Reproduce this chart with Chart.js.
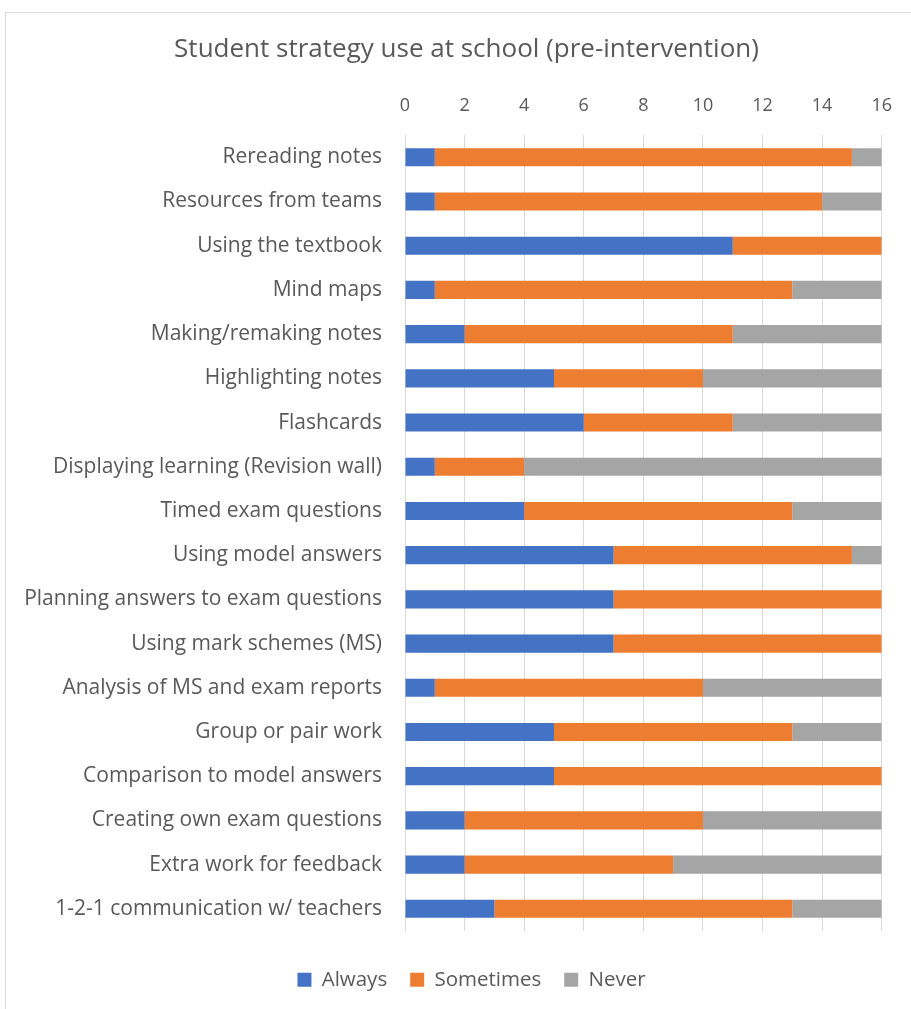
<!DOCTYPE html>
<html>
<head>
<meta charset="utf-8">
<script src="https://cdn.jsdelivr.net/npm/chart.js@4"></script>
<style>
  html, body { margin: 0; padding: 0; background: #fff; }
  #wrap { position: relative; width: 911px; height: 1009px; }
  #frame { position: absolute; left: 5px; top: 12px; width: 920px; height: 1010px; border: 1px solid #d9d9d9; box-sizing: border-box; }
  canvas { position: absolute; left: 0; top: 0; }
</style>
</head>
<body>
<div id="wrap">
  <div id="frame"></div>
  <canvas id="chart" width="911" height="1009"></canvas>
</div>
<script>
const strategies = [
  "Rereading notes",
  "Resources from teams",
  "Using the textbook",
  "Mind maps",
  "Making/remaking notes",
  "Highlighting notes",
  "Flashcards",
  "Displaying learning (Revision wall)",
  "Timed exam questions",
  "Using model answers",
  "Planning answers to exam questions",
  "Using mark schemes (MS)",
  "Analysis of MS and exam reports",
  "Group or pair work",
  "Comparison to model answers",
  "Creating own exam questions",
  "Extra work for feedback",
  "1-2-1 communication w/ teachers"
];
const always    = [1, 1, 11, 1, 2, 5, 6, 1, 4, 7, 7, 7, 1, 5, 5, 2, 2, 3];
const sometimes = [14, 13, 5, 12, 9, 5, 5, 3, 9, 8, 9, 9, 9, 8, 11, 8, 7, 10];
const never     = [1, 2, 0, 3, 5, 6, 5, 12, 3, 1, 0, 0, 6, 3, 0, 6, 7, 3];

const textColor = "#595959";
const font = "'Open Sans', sans-serif";

// nudge title and legend to the right so they centre on the bars, not the whole box
const shiftBlocks = {
  id: "shiftBlocks",
  afterLayout(chart) {
    if (chart.titleBlock) {
      chart.titleBlock.left += 20;
      chart.titleBlock.right += 20;
    }
    if (chart.legend) {
      chart.legend.left += 25;
      chart.legend.right += 25;
    }
  }
};

new Chart(document.getElementById("chart").getContext("2d"), {
  type: "bar",
  data: {
    labels: strategies,
    datasets: [
      { label: "Always", data: always, backgroundColor: "#4472C4" },
      { label: "Sometimes", data: sometimes, backgroundColor: "#ED7D31" },
      { label: "Never", data: never, backgroundColor: "#A5A5A5" }
    ]
  },
  options: {
    indexAxis: "y",
    responsive: false,
    animation: false,
    barPercentage: 0.41,
    categoryPercentage: 1,
    layout: { padding: { top: 12, right: 28, bottom: 9, left: 10 } },
    scales: {
      x: {
        position: "top",
        stacked: true,
        min: 0,
        max: 16,
        ticks: { stepSize: 2, color: textColor, font: { family: font, size: 18 }, padding: 19 },
        grid: { color: "#d9d9d9", drawTicks: false },
        border: { display: false },
        afterFit: (scale) => { scale.height = 47; }
      },
      y: {
        stacked: true,
        ticks: { color: textColor, font: { family: font, size: 21 }, padding: 15, autoSkip: false },
        grid: { display: false },
        border: { display: false },
        afterFit: (scale) => { scale.width = 395; }
      }
    },
    plugins: {
      title: {
        display: true,
        text: "Student strategy use at school (pre-intervention)",
        color: textColor,
        font: { family: font, size: 26, weight: "normal" },
        padding: { top: 22, bottom: 23 }
      },
      legend: {
        position: "bottom",
        // empty legend title only adds space between the bars and the legend row
        title: { display: true, text: " ", padding: 0, font: { size: 13 } },
        labels: {
          color: textColor,
          font: { family: font, size: 20.5 },
          boxWidth: 14,
          boxHeight: 14,
          padding: 23
        }
      },
      tooltip: { enabled: false }
    }
  },
  plugins: [shiftBlocks]
});
</script>
</body>
</html>
